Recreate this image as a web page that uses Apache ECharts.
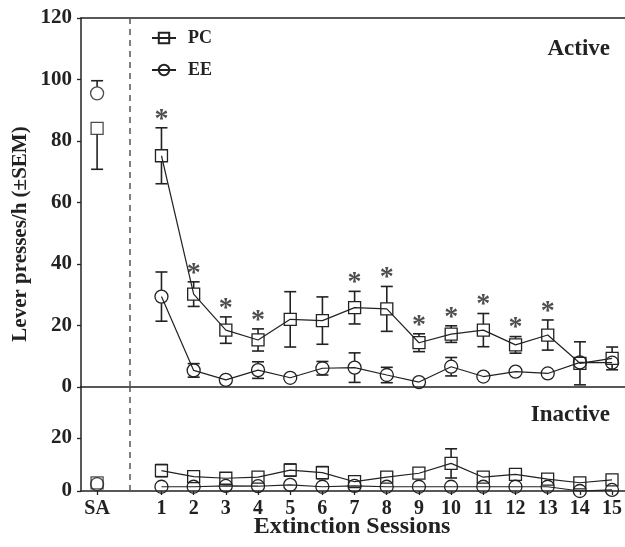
<!DOCTYPE html>
<html>
<head>
<meta charset="utf-8">
<script src="https://cdn.jsdelivr.net/npm/echarts@6/dist/echarts.min.js"></script>
<style>
  html, body { margin: 0; background: #fff; }
  #chart { width: 625px; height: 547px; }
</style>
</head>
<body>
<div id="chart"></div>
<script>
// x positions: SA sits at -1, the dashed divider at 0, sessions 1..15
const sessionX = [-1, 1, 2, 3, 4, 5, 6, 7, 8, 9, 10, 11, 12, 13, 14, 15];
const tickLabels = ['SA', '1', '2', '3', '4', '5', '6', '7', '8', '9', '10', '11', '12', '13', '14', '15'];

// active lever
const pcActive = [84.1, 75.2, 30.2, 18.5, 15.3, 22.0, 21.6, 25.8, 25.4, 14.4, 17.2, 18.5, 13.7, 16.9, 7.7, 9.3];
const pcActiveSem = [13.3, 9.1, 4.0, 4.3, 3.6, 9.0, 7.7, 5.3, 7.3, 2.9, 2.7, 5.4, 2.7, 4.9, 7.0, 3.7];
const eeActive = [95.5, 29.4, 5.4, 2.3, 5.5, 3.0, 6.1, 6.3, 3.9, 1.6, 6.6, 3.4, 5.0, 4.4, 8.0, 7.9];
const eeActiveSem = [4.1, 8.0, 2.2, 1.0, 2.7, 1.0, 2.2, 4.8, 2.5, 1.0, 3.0, 1.0, 1.0, 1.0, 1.0, 1.5];

// inactive lever
const pcInactive = [3.1, 7.7, 5.4, 4.8, 5.2, 7.9, 6.9, 3.5, 5.2, 6.7, 10.4, 5.2, 6.3, 4.5, 3.1, 4.2];
const pcInactiveSem = [1.0, 2.3, 1.0, 1.0, 1.0, 2.3, 2.3, 1.0, 1.0, 1.0, 5.5, 1.0, 1.0, 1.0, 1.0, 1.0];
const eeInactive = [2.6, 1.6, 1.6, 1.9, 1.8, 2.3, 1.6, 1.9, 1.6, 1.6, 1.6, 1.6, 1.6, 1.6, 0.0, 0.4];
const eeInactiveSem = [0.5, 0.5, 0.5, 0.5, 0.5, 0.5, 0.5, 0.5, 0.5, 0.5, 0.5, 0.5, 0.5, 0.5, 0.5, 0.5];

// sessions where PC differs from EE (active lever)
const sigSessions = [1, 2, 3, 4, 7, 8, 9, 10, 11, 12, 13];

const INK = '#222';
const FONT = '"Liberation Serif", "Times New Roman", serif';
const X_MIN = -1.5, X_MAX = 15.4;

function pts(values) {
    return sessionX.map((x, i) => [x, values[i]]);
}

// error bars, drawn from marker edge out to the cap
function errorBars(xIdx, yIdx, means, sems, half, side) {
    return {
        type: 'custom',
        xAxisIndex: xIdx,
        yAxisIndex: yIdx,
        silent: true,
        clip: false,
        z: 3,
        data: sessionX.map((x, i) => [x, means[i], sems[i], i]),
        renderItem: function (params, api) {
            const x = api.value(0), m = api.value(1), e = api.value(2);
            const which = side ? side(api.value(3)) : 'both';
            const c = api.coord([x, m]);
            const style = { stroke: INK, lineWidth: 1.6 };
            const children = [];
            const addSide = (yv) => {
                const p = api.coord([x, yv]);
                const d = p[1] - c[1];
                if (Math.abs(d) <= half) return;
                const edge = c[1] + Math.sign(d) * half;
                children.push({ type: 'line', shape: { x1: c[0], y1: edge, x2: c[0], y2: p[1] }, style });
                children.push({ type: 'line', shape: { x1: c[0] - 6, y1: p[1], x2: c[0] + 6, y2: p[1] }, style });
            };
            if (which !== 'down') addSide(m + e);
            if (which !== 'up') addSide(m - e);
            return { type: 'group', children };
        },
    };
}

function markerStyle(symbol, size) {
    return {
        symbol: symbol,
        symbolSize: size,
        itemStyle: { color: 'rgba(0,0,0,0)', borderColor: INK, borderWidth: 1.3 },
    };
}

// sessions joined by a line, SA point on its own
function groupSeries(name, symbol, size, xIdx, yIdx, values) {
    const all = pts(values);
    return [
        Object.assign({
            name: name,
            type: 'line',
            xAxisIndex: xIdx,
            yAxisIndex: yIdx,
            data: all.slice(1),
            showAllSymbol: true,
            clip: false,
            lineStyle: { color: INK, width: 1.2 },
            z: 4,
        }, markerStyle(symbol, size)),
        Object.assign({
            name: name,
            type: 'scatter',
            xAxisIndex: xIdx,
            yAxisIndex: yIdx,
            data: all.slice(0, 1),
            clip: false,
            z: 4,
        }, markerStyle(symbol, size)),
    ];
}

const divider = {
    silent: true,
    symbol: 'none',
    label: { show: false },
    lineStyle: { color: '#555', type: [6, 5], width: 1.5 },
    data: [{ xAxis: 0 }],
};

const axisFontY = { fontFamily: FONT, fontWeight: 'bold', fontSize: 21, color: INK };
const axisFontX = { fontFamily: FONT, fontWeight: 'bold', fontSize: 20, color: INK };

// SA: PC whisker only downwards, EE only upwards
const saSide = (dir) => (i) => (i === 0 ? dir : 'both');

const stars = sigSessions.map((s) => {
    const i = sessionX.indexOf(s);
    return [s, pcActive[i] + pcActiveSem[i]];
});

const option = {
    backgroundColor: '#fff',
    animation: false,
    title: [
        { text: 'Active', right: 10, top: 33, textStyle: { fontFamily: FONT, fontWeight: 'bold', fontSize: 23, color: INK } },
        { text: 'Inactive', right: 10, top: 399, textStyle: { fontFamily: FONT, fontWeight: 'bold', fontSize: 23, color: INK } },
    ],
    legend: {
        data: ['PC', 'EE'],
        orient: 'vertical',
        left: 146,
        top: 24,
        itemWidth: 24,
        itemHeight: 13,
        itemGap: 14,
        textStyle: { fontFamily: FONT, fontWeight: 'bold', fontSize: 18, color: INK, padding: [0, 0, 0, 7] },
    },
    grid: [
        { left: 81, right: 0, top: 18, height: 369 },
        { left: 81, right: 0, top: 387, height: 104 },
    ],
    xAxis: [
        {
            type: 'value', gridIndex: 0, min: X_MIN, max: X_MAX,
            axisLine: { onZero: true, lineStyle: { color: INK, width: 1.5 } },
            axisTick: { show: false }, axisLabel: { show: false }, splitLine: { show: false },
        },
        {
            type: 'value', gridIndex: 1, min: X_MIN, max: X_MAX,
            axisLine: { lineStyle: { color: INK, width: 1.5 } },
            axisTick: { customValues: sessionX, length: 4, lineStyle: { color: INK, width: 1.3 } },
            axisLabel: Object.assign({
                customValues: sessionX,
                margin: 8,
                formatter: (v) => tickLabels[sessionX.indexOf(v)],
            }, axisFontX),
            splitLine: { show: false },
        },
        {
            type: 'value', gridIndex: 0, position: 'top', min: X_MIN, max: X_MAX,
            axisLine: { onZero: false, lineStyle: { color: INK, width: 1.5 } },
            axisTick: { show: false }, axisLabel: { show: false }, splitLine: { show: false },
        },
    ],
    yAxis: [
        {
            type: 'value', gridIndex: 0, min: 0, max: 120, interval: 20,
            axisLine: { show: true, onZero: false, lineStyle: { color: INK, width: 1.5 } },
            axisTick: { show: true, length: 4, lineStyle: { color: INK, width: 1.3 } },
            axisLabel: Object.assign({ margin: 9 }, axisFontY),
            splitLine: { show: false },
        },
        {
            type: 'value', gridIndex: 1, min: 0, max: 39.2,
            axisLine: { show: true, onZero: false, lineStyle: { color: INK, width: 1.5 } },
            axisTick: { show: true, customValues: [0, 20], length: 4, lineStyle: { color: INK, width: 1.3 } },
            axisLabel: Object.assign({ margin: 9, customValues: [0, 20] }, axisFontY),
            splitLine: { show: false },
        },
    ],
    graphic: [
        {
            type: 'text', x: 21, y: 234, rotation: Math.PI / 2,
            style: {
                text: 'Lever presses/h (±SEM)', x: 0, y: 0, align: 'center', verticalAlign: 'middle',
                font: 'bold 21px ' + FONT, fill: INK,
            },
        },
        {
            type: 'text', x: 352, y: 527,
            style: {
                text: 'Extinction Sessions', x: 0, y: 0, align: 'center', verticalAlign: 'middle',
                font: 'bold 24px ' + FONT, fill: INK,
            },
        },
    ],
    series: [
        ...groupSeries('PC', 'rect', 12, 0, 0, pcActive),
        ...groupSeries('EE', 'circle', 13, 0, 0, eeActive),
        errorBars(0, 0, pcActive, pcActiveSem, 6, saSide('down')),
        errorBars(0, 0, eeActive, eeActiveSem, 6.5, saSide('up')),
        ...groupSeries('PC', 'rect', 12, 1, 1, pcInactive),
        ...groupSeries('EE', 'circle', 13, 1, 1, eeInactive),
        errorBars(1, 1, pcInactive, pcInactiveSem, 6, null),
        errorBars(1, 1, eeInactive, eeInactiveSem, 6.5, null),
        {
            type: 'scatter',
            xAxisIndex: 0,
            yAxisIndex: 0,
            silent: true,
            symbolSize: 1,
            itemStyle: { color: 'rgba(0,0,0,0)' },
            data: stars,
            label: {
                show: true, position: 'top', distance: -6, formatter: '*',
                fontFamily: FONT, fontWeight: 'bold', fontSize: 28, color: INK,
            },
            markLine: divider,
        },
        {
            type: 'scatter',
            xAxisIndex: 1,
            yAxisIndex: 1,
            silent: true,
            symbolSize: 0,
            data: [],
            markLine: divider,
        },
    ],
};

const chart = echarts.init(document.getElementById('chart'), null, { renderer: 'canvas' });
chart.setOption(option);
</script>
</body>
</html>
